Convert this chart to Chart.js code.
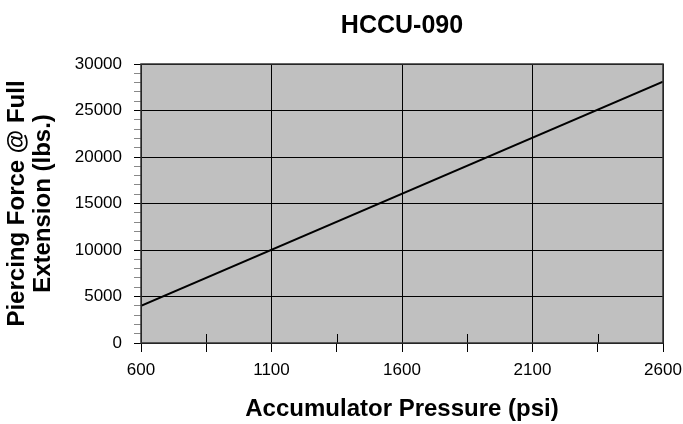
<!DOCTYPE html>
<html>
<head>
<meta charset="utf-8">
<script src="https://cdn.jsdelivr.net/npm/chart.js@4"></script>
<style>
  html, body { margin: 0; padding: 0; background: #fff; }
  #wrap { width: 683px; height: 424px; }
</style>
</head>
<body>
<div id="wrap"><canvas id="chart"></canvas></div>
<script>
const pressure = [600, 2600];
const force = [4000, 28100];
const xMinorTicks = [850, 1350, 1850, 2350];

const SANS = '"Liberation Sans", Arial, sans-serif';

const plotFrame = {
    id: 'plotFrame',
    beforeDraw(chart) {
        const a = chart.chartArea;
        const ctx = chart.ctx;
        ctx.save();
        ctx.fillStyle = '#c0c0c0';
        ctx.fillRect(a.left, a.top, a.width, a.height);
        ctx.restore();
    },
    afterDraw(chart) {
        const a = chart.chartArea;
        const ctx = chart.ctx;
        const x = chart.scales.x;
        ctx.save();
        // small inside marks at the x midpoints
        ctx.strokeStyle = '#000';
        ctx.lineWidth = 1;
        xMinorTicks.forEach(v => {
            const px = Math.round(x.getPixelForValue(v)) + 0.5;
            ctx.beginPath();
            ctx.moveTo(px, a.bottom);
            ctx.lineTo(px, a.bottom - 9);
            ctx.stroke();
        });
        ctx.strokeStyle = '#333';
        ctx.lineWidth = 1.5;
        ctx.strokeRect(a.left, a.top, a.width, a.height);
        ctx.restore();
    }
};

new Chart(document.getElementById('chart'), {
    type: 'line',
    plugins: [plotFrame],
    data: {
        datasets: [{
            data: pressure.map((p, i) => ({ x: p, y: force[i] })),
            borderColor: '#000',
            borderWidth: 2,
            pointRadius: 0,
            tension: 0,
            fill: false
        }]
    },
    options: {
        responsive: true,
        maintainAspectRatio: false,
        animation: false,
        layout: { padding: { left: 0, right: 20, top: 0, bottom: 0 } },
        plugins: {
            legend: { display: false },
            tooltip: { enabled: false },
            title: {
                display: true,
                text: 'HCCU-090',
                fullSize: false,
                color: '#000',
                font: { family: SANS, size: 25, weight: 'bold', lineHeight: 1.2 },
                padding: { top: 11, bottom: 23 }
            }
        },
        scales: {
            x: {
                type: 'linear',
                min: 600,
                max: 2600,
                afterFit: s => {
                    s.height = 81;
                    s.paddingLeft = 0;
                    s.paddingRight = 0;
                },
                border: { display: false },
                grid: {
                    color: c => ((c.tick.value - 600) % 500 === 0 ? '#000' : 'rgba(0,0,0,0)'),
                    tickColor: '#000',
                    tickLength: 9,
                    lineWidth: 1
                },
                ticks: {
                    stepSize: 250,
                    autoSkip: false,
                    maxRotation: 0,
                    padding: 8,
                    color: '#000',
                    font: { family: SANS, size: 17 },
                    callback: v => ((v - 600) % 500 === 0 ? String(v) : '')
                },
                title: {
                    display: true,
                    text: 'Accumulator Pressure (psi)',
                    color: '#000',
                    font: { family: SANS, size: 24, weight: 'bold', lineHeight: 1 },
                    padding: { top: 0, bottom: 3 }
                }
            },
            y: {
                min: 0,
                max: 30000,
                afterFit: s => { s.width = 141; },
                border: { display: false },
                grid: {
                    color: c => (c.tick.value % 5000 === 0 ? '#000' : 'rgba(0,0,0,0)'),
                    tickColor: c => (c.tick.value % 5000 === 0 ? '#000' : '#888'),
                    tickLength: 7,
                    lineWidth: 1
                },
                ticks: {
                    stepSize: 1000,
                    autoSkip: false,
                    padding: 12,
                    color: '#000',
                    font: { family: SANS, size: 17 },
                    callback: v => (v % 5000 === 0 ? String(v) : '')
                },
                title: {
                    display: true,
                    text: ['Piercing Force @ Full', 'Extension (lbs.)'],
                    color: '#000',
                    font: { family: SANS, size: 24, weight: 'bold', lineHeight: 1.08 },
                    padding: { top: 4, bottom: 0 }
                }
            }
        }
    }
});
</script>
</body>
</html>
